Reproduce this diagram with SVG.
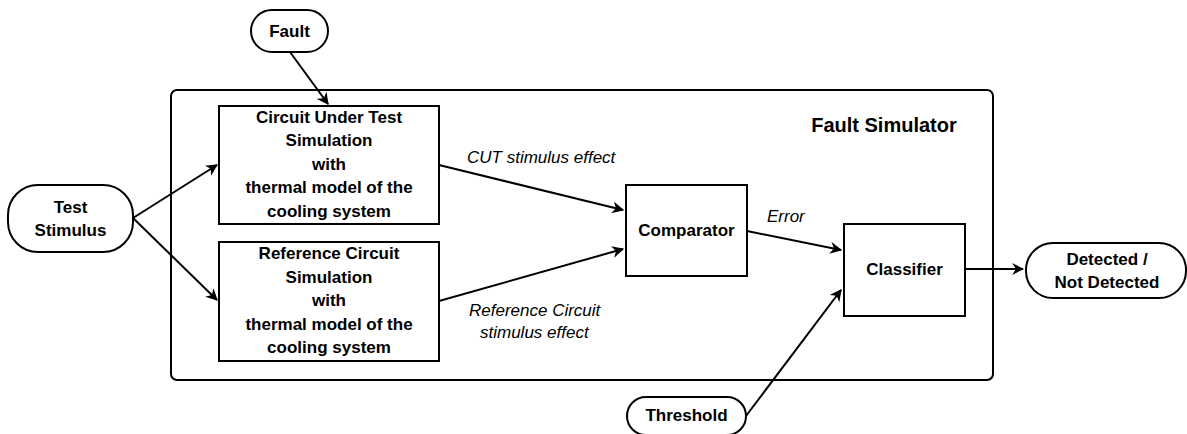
<svg xmlns="http://www.w3.org/2000/svg" width="1187" height="434" viewBox="0 0 1187 434">
<style>
.box{fill:#fff;stroke:#000;stroke-width:2}
.frame{fill:none;stroke:#000;stroke-width:2}
.t{font-family:"Liberation Sans",Arial,sans-serif;font-weight:bold;font-size:17px;text-anchor:middle;fill:#000}
.lbl{font-family:"Liberation Sans",Arial,sans-serif;font-style:italic;font-size:17px;fill:#000}
.c{stroke:#000;stroke-width:2;fill:none;marker-end:url(#ah)}
</style>
<defs>
<marker id="ah" viewBox="0 0 10 10" refX="9" refY="5" markerWidth="6" markerHeight="6" markerUnits="strokeWidth" orient="auto">
<path d="M0,0 L10,5 L0,10 L3,5 Z" fill="#000"/>
</marker>
</defs>
<rect width="1187" height="434" fill="#fff"/>
<g id="fault-simulator">
<rect class="frame" x="171" y="90" width="822" height="290" rx="6"/>
<text class="t" x="884" y="132" style="font-size:20px">Fault Simulator</text>
</g>
<g id="fault">
<rect class="box" x="251" y="10" width="77" height="42" rx="21"/>
<text class="t" x="289.5" y="37">Fault</text>
</g>
<g id="test-stimulus">
<rect class="box" x="8" y="185" width="125" height="67" rx="30"/>
<text class="t" x="70.5" y="213">Test</text>
<text class="t" x="70.5" y="236">Stimulus</text>
</g>
<g id="cut">
<rect class="box" x="219" y="106" width="220" height="118"/>
<text class="t" x="329" y="123">Circuit Under Test</text>
<text class="t" x="329" y="146">Simulation</text>
<text class="t" x="329" y="170">with</text>
<text class="t" x="329" y="193">thermal model of the</text>
<text class="t" x="329" y="217">cooling system</text>
</g>
<g id="reference">
<rect class="box" x="219" y="242" width="220" height="119"/>
<text class="t" x="329" y="259">Reference Circuit</text>
<text class="t" x="329" y="283">Simulation</text>
<text class="t" x="329" y="306">with</text>
<text class="t" x="329" y="330">thermal model of the</text>
<text class="t" x="329" y="353">cooling system</text>
</g>
<g id="comparator">
<rect class="box" x="626" y="185" width="121" height="91"/>
<text class="t" x="686.5" y="236">Comparator</text>
</g>
<g id="classifier">
<rect class="box" x="844" y="224" width="121" height="92"/>
<text class="t" x="904.5" y="275">Classifier</text>
</g>
<g id="detected">
<rect class="box" x="1026" y="243" width="160" height="55" rx="27"/>
<text class="t" x="1107" y="265">Detected /</text>
<text class="t" x="1107" y="288">Not Detected</text>
</g>
<g id="threshold">
<rect class="box" x="627" y="397" width="119" height="38" rx="19"/>
<text class="t" x="686.5" y="421">Threshold</text>
</g>
<g id="connectors">
<line class="c" x1="290" y1="52" x2="328" y2="104"/>
<line class="c" x1="133" y1="218" x2="217" y2="165"/>
<line class="c" x1="133" y1="218" x2="217" y2="300"/>
<line class="c" x1="439" y1="165" x2="623" y2="210"/>
<line class="c" x1="439" y1="301" x2="623" y2="249"/>
<line class="c" x1="747" y1="231" x2="841" y2="250"/>
<line class="c" x1="746" y1="416" x2="841" y2="290"/>
<line class="c" x1="965" y1="269" x2="1023" y2="269"/>
<text class="lbl" x="467" y="163">CUT stimulus effect</text>
<text class="lbl" x="469" y="316">Reference Circuit</text>
<text class="lbl" x="480" y="338">stimulus effect</text>
<text class="lbl" x="767" y="222">Error</text>
</g>
</svg>
